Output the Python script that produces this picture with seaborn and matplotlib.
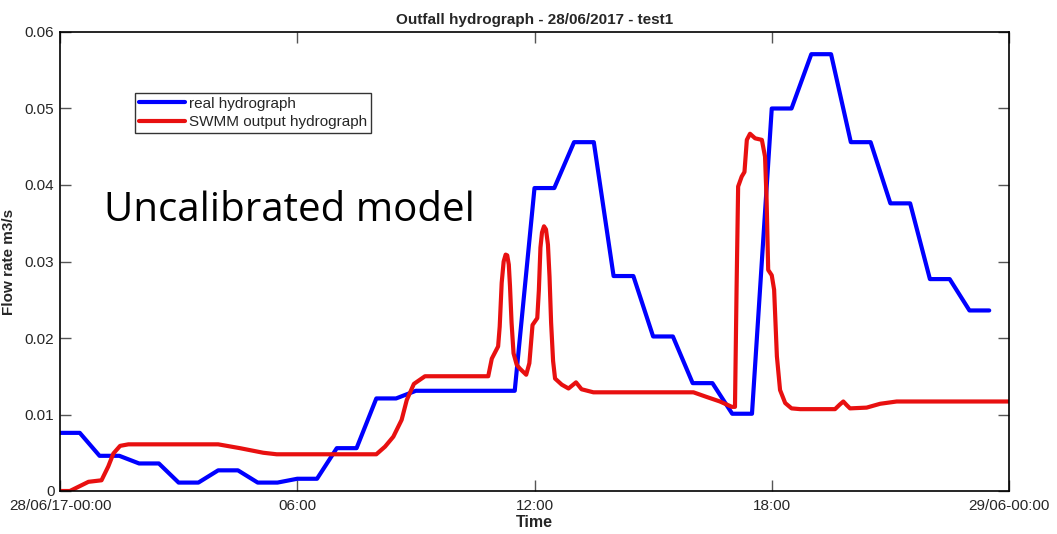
import matplotlib
matplotlib.use("Agg")
import matplotlib.pyplot as plt
import seaborn as sns
import pandas as pd

# ---- data (hours since 28/06/17 00:00, flow in m3/s) ----
real_hours = [0, 0.5, 1.0, 1.5, 2.0, 2.5, 3.0, 3.5, 4.0, 4.5, 5.0, 5.5, 6.0, 6.5,
              7.0, 7.5, 8.0, 8.5, 9.0, 9.5, 10.0, 10.5, 11.0, 11.5, 12.0, 12.5,
              13.0, 13.5, 14.0, 14.5, 15.0, 15.5, 16.0, 16.5, 17.0, 17.5, 18.0,
              18.5, 19.0, 19.5, 20.0, 20.5, 21.0, 21.5, 22.0, 22.5, 23.0, 23.5]
real_flow = [0.0076, 0.0076, 0.0046, 0.0046, 0.0036, 0.0036, 0.0011, 0.0011,
             0.0027, 0.0027, 0.0011, 0.0011, 0.0016, 0.0016, 0.0056, 0.0056,
             0.0121, 0.0121, 0.0131, 0.0131, 0.0131, 0.0131, 0.0131, 0.0131,
             0.0396, 0.0396, 0.0456, 0.0456, 0.0281, 0.0281, 0.0202, 0.0202,
             0.0141, 0.0141, 0.0101, 0.0101, 0.0500, 0.0500, 0.0571, 0.0571,
             0.0456, 0.0456, 0.0376, 0.0376, 0.0277, 0.0277, 0.0236, 0.0236]

swmm_hours = [0, 0.25, 0.72, 1.05, 1.22, 1.35, 1.52, 1.73, 4.0, 4.55, 5.14, 5.48,
              8.0, 8.22, 8.43, 8.64, 8.77, 8.95, 9.23, 10.83, 10.92, 11.08, 11.12,
              11.17, 11.22, 11.27, 11.31, 11.35, 11.38, 11.42, 11.47, 11.55, 11.63,
              11.79, 11.87, 11.95, 12.07, 12.11, 12.15, 12.19, 12.24, 12.29, 12.34,
              12.38, 12.42, 12.47, 12.52, 12.69, 12.86, 13.05, 13.19, 13.49, 16.02,
              16.35, 16.69, 16.99, 17.07, 17.11, 17.15, 17.24, 17.31, 17.37, 17.45,
              17.58, 17.75, 17.83, 17.87, 17.91, 18.0, 18.06, 18.13, 18.21, 18.34,
              18.5, 18.72, 19.6, 19.72, 19.81, 19.9, 19.98, 20.4, 20.74, 21.16, 24.0]
swmm_flow = [0.0, 0.0, 0.0012, 0.0014, 0.0032, 0.0049, 0.0059, 0.0061, 0.0061,
             0.0056, 0.0050, 0.0048, 0.0048, 0.0058, 0.0071, 0.0093, 0.0119,
             0.0140, 0.0150, 0.0150, 0.0173, 0.0189, 0.0215, 0.0272, 0.0300,
             0.0309, 0.0308, 0.0296, 0.0268, 0.0220, 0.0180, 0.0165, 0.0160,
             0.0152, 0.0167, 0.0217, 0.0226, 0.0262, 0.0318, 0.0338, 0.0346,
             0.0342, 0.0322, 0.0280, 0.0220, 0.0170, 0.0147, 0.0139, 0.0134,
             0.0142, 0.0133, 0.0129, 0.0129, 0.0123, 0.0117, 0.0110, 0.0110,
             0.0263, 0.0398, 0.0411, 0.0417, 0.0459, 0.0467, 0.0461, 0.0459,
             0.0437, 0.0380, 0.0289, 0.0282, 0.0263, 0.0176, 0.0132, 0.0115,
             0.0108, 0.0107, 0.0107, 0.0113, 0.0117, 0.0112, 0.0108, 0.0109,
             0.0114, 0.0117, 0.0117]

x_ticks = [0, 6, 12, 18, 24]
x_tick_labels = ["28/06/17-00:00", "06:00", "12:00", "18:00", "29/06-00:00"]
y_ticks = [0, 0.01, 0.02, 0.03, 0.04, 0.05, 0.06]
y_tick_labels = ["0", "0.01", "0.02", "0.03", "0.04", "0.05", "0.06"]

sns.set_theme(style="white")
plt.rcParams["font.family"] = ["Liberation Sans", "DejaVu Sans"]

fig = plt.figure(figsize=(10.57, 5.34), dpi=100)
ax = fig.add_axes([60 / 1057, 1 - 491 / 534, (1009 - 60) / 1057, (491 - 32) / 534])

real_df = pd.DataFrame({"hour": real_hours, "flow": real_flow})
swmm_df = pd.DataFrame({"hour": swmm_hours, "flow": swmm_flow})

sns.lineplot(data=real_df, x="hour", y="flow", ax=ax, color="#0000ff",
             linewidth=3.0, label="real hydrograph")
sns.lineplot(data=swmm_df, x="hour", y="flow", ax=ax, color="#e81010",
             linewidth=3.0, label="SWMM output hydrograph")

ax.set_xlim(0, 24)
ax.set_ylim(0, 0.06)
ax.set_xticks(x_ticks)
ax.set_xticklabels(x_tick_labels, fontsize=11)
ax.set_yticks(y_ticks)
ax.set_yticklabels(y_tick_labels, fontsize=11)
ax.tick_params(axis="both", direction="in", length=8, width=1, color="#555555",
               top=True, right=True, bottom=True, left=True, pad=4)
ax.tick_params(axis="x", pad=6)
for s in ax.spines.values():
    s.set_color("black")
    s.set_linewidth(1.2)

ax.set_xlabel("Time", fontsize=11.5, fontweight="bold", labelpad=1)
ax.set_ylabel("Flow rate m3/s", fontsize=11, fontweight="bold", labelpad=6)
ax.set_title("Outfall hydrograph - 28/06/2017 - test1", fontsize=11,
             fontweight="bold", pad=6)

leg = ax.legend(loc="upper left", bbox_to_anchor=((135 - 60) / 949, 1 - (93 - 32) / 459),
                frameon=True, fancybox=False, fontsize=11, borderpad=0.25,
                handlelength=3.0, handletextpad=0.3, labelspacing=0.3,
                borderaxespad=0)
leg.get_frame().set_edgecolor("black")
leg.get_frame().set_linewidth(1.0)

fig.text(104 / 1057, 1 - 211 / 534, "Uncalibrated model", fontsize=29,
         family=["Open Sans", "DejaVu Sans"], va="center", ha="left", color="black")

fig.savefig("out.png", dpi=100)
